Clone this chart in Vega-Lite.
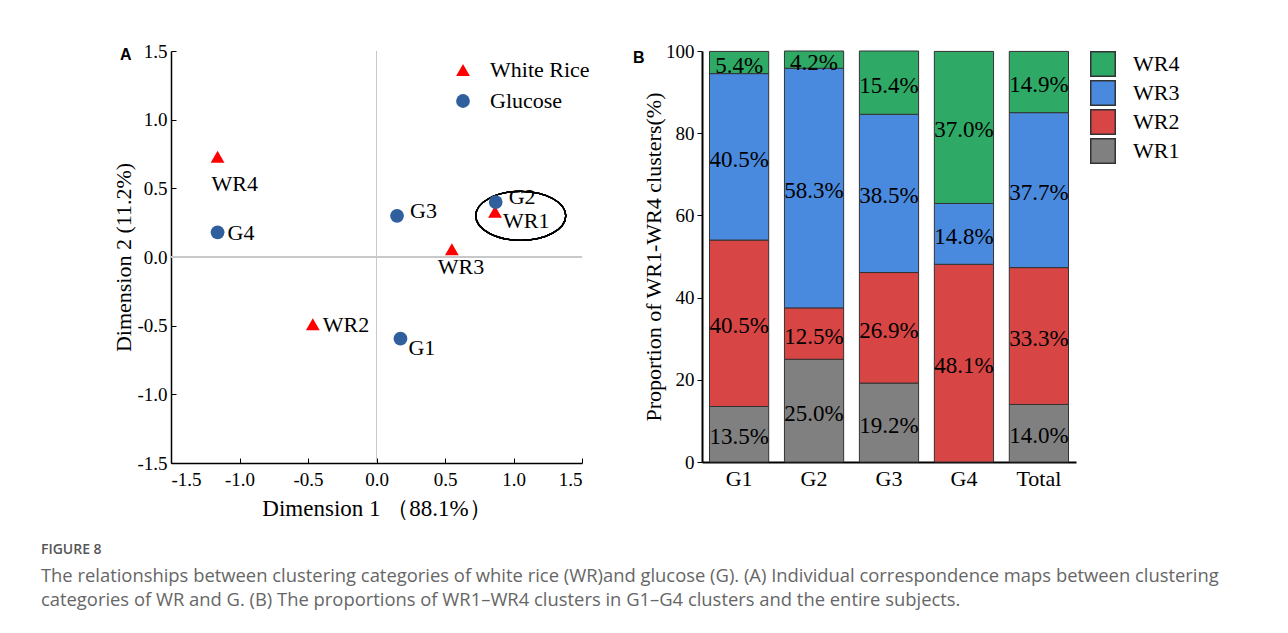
{
  "$schema": "https://vega.github.io/schema/vega-lite/v6.json",
  "background": "white",
  "padding": {"left": 40, "top": 42, "right": 0, "bottom": 0},
  "spacing": 43,
  "resolve": {"scale": {"color": "independent", "shape": "independent"}, "legend": {"color": "independent", "shape": "independent"}},
  "title": {
    "text": "FIGURE 8",
    "subtitle": ["The relationships between clustering categories of white rice (WR)and glucose (G). (A) Individual correspondence maps between clustering", "categories of WR and G. (B) The proportions of WR1–WR4 clusters in G1–G4 clusters and the entire subjects."],
    "orient": "bottom",
    "anchor": "start",
    "frame": "bounds",
    "dx": -72,
    "offset": 23,
    "font": "Open Sans",
    "fontSize": 14,
    "fontWeight": 600,
    "color": "#555555",
    "subtitleFont": "Open Sans",
    "subtitleFontSize": 18.4,
    "subtitleColor": "#666666",
    "subtitlePadding": 10,
    "subtitleLineHeight": 24
  },
  "hconcat": [
    {
      "width": 411,
      "height": 412,
      "title": {"text": "A", "anchor": "start", "frame": "group", "dx": -51, "offset": -21, "font": "Liberation Sans", "fontWeight": "bold", "fontSize": 16, "color": "black"},
      "data": {"values": [
        {"name": "WR1", "type": "White Rice", "x": 0.865, "y": 0.33},
        {"name": "WR2", "type": "White Rice", "x": -0.465, "y": -0.49},
        {"name": "WR3", "type": "White Rice", "x": 0.55, "y": 0.056},
        {"name": "WR4", "type": "White Rice", "x": -1.16, "y": 0.73},
        {"name": "G1", "type": "Glucose", "x": 0.175, "y": -0.595},
        {"name": "G2", "type": "Glucose", "x": 0.87, "y": 0.4},
        {"name": "G3", "type": "Glucose", "x": 0.15, "y": 0.3},
        {"name": "G4", "type": "Glucose", "x": -1.16, "y": 0.18}
      ]},
      "encoding": {
        "x": {"field": "x", "type": "quantitative", "scale": {"domain": [-1.5, 1.5], "nice": false, "zero": false},
          "axis": {"values": [-1.5, -1, -0.5, 0, 0.5, 1, 1.5], "labelExpr": "replace(format(datum.value, '.1f'), '\u2212', '-')", "tickSize": -5, "labelPadding": 12, "title": "Dimension 1 （88.1%）", "titleFontSize": 23, "titlePadding": 8}},
        "y": {"field": "y", "type": "quantitative", "scale": {"domain": [-1.5, 1.5], "nice": false, "zero": false},
          "axis": {"values": [-1.5, -1, -0.5, 0, 0.5, 1, 1.5], "labelExpr": "replace(format(datum.value, '.1f'), '\u2212', '-')", "tickSize": -5, "labelPadding": 9, "title": "Dimension 2 (11.2%)", "titlePadding": 1}}
      },
      "layer": [
        {"mark": {"type": "rule", "color": "#c8c8c8", "strokeWidth": 1}, "encoding": {"x": {"datum": 0}, "y": null}},
        {"mark": {"type": "rule", "color": "#c8c8c8", "strokeWidth": 1}, "encoding": {"y": {"datum": 0}, "x": null}},
        {"mark": {"type": "point", "shape": "M-1,0A1,0.545,0,1,0,1,0A1,0.545,0,1,0,-1,0Z", "size": 8100, "filled": false, "stroke": "black", "strokeWidth": 1.3, "opacity": 1},
          "encoding": {"x": {"datum": 1.053}, "y": {"datum": 0.3}}},
        {
          "mark": {"type": "point", "filled": true, "opacity": 1, "size": 190},
          "encoding": {
            "color": {"field": "type", "type": "nominal", "scale": {"domain": ["White Rice", "Glucose"], "range": ["#ff0000", "#2f5f9d"]},
              "legend": {"orient": "none", "legendX": 281, "legendY": 8, "title": null, "labelFont": "Liberation Serif", "labelFontSize": 22, "labelColor": "black", "labelOffset": 16, "rowPadding": 9, "symbolSize": 190}},
            "shape": {"field": "type", "type": "nominal", "scale": {"domain": ["White Rice", "Glucose"], "range": ["triangle-up", "circle"]}}
          }
        },
        {"transform": [{"filter": "datum.name == 'G4' || datum.name == 'WR2'"}],
          "mark": {"type": "text", "align": "left", "baseline": "middle", "dx": 10, "dy": 1, "font": "Liberation Serif", "fontSize": 22, "color": "black"},
          "encoding": {"text": {"field": "name"}}},
        {"transform": [{"filter": "datum.name == 'G3' || datum.name == 'G2'"}],
          "mark": {"type": "text", "align": "left", "baseline": "middle", "dx": 13, "dy": -5, "font": "Liberation Serif", "fontSize": 22, "color": "black"},
          "encoding": {"text": {"field": "name"}}},
        {"transform": [{"filter": "datum.name == 'WR1' || datum.name == 'G1'"}],
          "mark": {"type": "text", "align": "left", "baseline": "middle", "dx": 8, "dy": 9, "font": "Liberation Serif", "fontSize": 22, "color": "black"},
          "encoding": {"text": {"field": "name"}}},
        {"transform": [{"filter": "datum.name == 'WR4'"}],
          "mark": {"type": "text", "align": "left", "baseline": "middle", "dx": -6, "dy": 27, "font": "Liberation Serif", "fontSize": 22, "color": "black"},
          "encoding": {"text": {"field": "name"}}},
        {"transform": [{"filter": "datum.name == 'WR3'"}],
          "mark": {"type": "text", "align": "left", "baseline": "middle", "dx": -14, "dy": 18, "font": "Liberation Serif", "fontSize": 22, "color": "black"},
          "encoding": {"text": {"field": "name"}}}
      ]
    },
    {
      "width": 374,
      "height": 411,
      "title": {"text": "B", "anchor": "start", "frame": "group", "dx": -69, "offset": -24, "font": "Liberation Sans", "fontWeight": "bold", "fontSize": 16, "color": "black"},
      "data": {"values": [
        {"group": "G1", "cluster": "WR1", "pct": 13.5},
        {"group": "G1", "cluster": "WR2", "pct": 40.5},
        {"group": "G1", "cluster": "WR3", "pct": 40.5},
        {"group": "G1", "cluster": "WR4", "pct": 5.4},
        {"group": "G2", "cluster": "WR1", "pct": 25.0},
        {"group": "G2", "cluster": "WR2", "pct": 12.5},
        {"group": "G2", "cluster": "WR3", "pct": 58.3},
        {"group": "G2", "cluster": "WR4", "pct": 4.2},
        {"group": "G3", "cluster": "WR1", "pct": 19.2},
        {"group": "G3", "cluster": "WR2", "pct": 26.9},
        {"group": "G3", "cluster": "WR3", "pct": 38.5},
        {"group": "G3", "cluster": "WR4", "pct": 15.4},
        {"group": "G4", "cluster": "WR1", "pct": 0},
        {"group": "G4", "cluster": "WR2", "pct": 48.1},
        {"group": "G4", "cluster": "WR3", "pct": 14.8},
        {"group": "G4", "cluster": "WR4", "pct": 37.0},
        {"group": "Total", "cluster": "WR1", "pct": 14.0},
        {"group": "Total", "cluster": "WR2", "pct": 33.3},
        {"group": "Total", "cluster": "WR3", "pct": 37.7},
        {"group": "Total", "cluster": "WR4", "pct": 14.9}
      ]},
      "transform": [
        {"filter": "datum.pct > 0"},
        {"stack": "pct", "groupby": ["group"], "sort": [{"field": "cluster", "order": "ascending"}], "as": ["y0", "y1"]}
      ],
      "encoding": {
        "x": {"field": "group", "type": "nominal", "sort": ["G1", "G2", "G3", "G4", "Total"],
          "scale": {"paddingInner": 0.21, "paddingOuter": 0.1},
          "axis": {"title": null, "labelAngle": 0, "ticks": false, "labelFontSize": 22, "labelPadding": 6, "domainWidth": 2}}
      },
      "layer": [
        {
          "mark": {"type": "bar", "stroke": "#333333", "strokeWidth": 1},
          "encoding": {
            "y": {"field": "y0", "type": "quantitative", "scale": {"domain": [0, 100], "nice": false},
              "axis": {"values": [0, 20, 40, 60, 80, 100], "tickSize": 5, "labelPadding": 3, "domainWidth": 2, "title": "Proportion of WR1-WR4 clusters(%)", "titlePadding": 0}},
            "y2": {"field": "y1"},
            "color": {"field": "cluster", "type": "nominal",
              "scale": {"domain": ["WR4", "WR3", "WR2", "WR1"], "range": ["#2eaa66", "#4a8ade", "#d84545", "#808080"]},
              "legend": {"title": null, "orient": "right", "offset": 14, "symbolType": "square", "symbolSize": 600, "symbolStrokeColor": "#333333", "symbolStrokeWidth": 1.5, "symbolOpacity": 1, "labelFont": "Liberation Serif", "labelFontSize": 22, "labelColor": "black", "labelOffset": 17, "rowPadding": -4}}
          }
        },
        {
          "transform": [
            {"fold": ["y0", "y1"], "as": ["edge", "yv"]},
            {"aggregate": [{"op": "mean", "field": "yv", "as": "ymid"}], "groupby": ["group", "cluster", "pct"]}
          ],
          "mark": {"type": "text", "align": "center", "baseline": "middle", "dy": 3, "font": "Liberation Serif", "fontSize": 23, "color": "black", "text": {"expr": "format(datum.pct, '.1f') + '%'"}},
          "encoding": {
            "y": {"field": "ymid", "type": "quantitative"}
          }
        }
      ]
    }
  ],
  "config": {
    "view": {"stroke": null},
    "axis": {"grid": false, "labelFont": "Liberation Serif", "titleFont": "Liberation Serif", "labelFontSize": 19, "titleFontSize": 22, "labelColor": "black", "titleColor": "black", "titleFontWeight": "normal", "domainColor": "black", "tickColor": "black", "domainWidth": 1.5, "labelOverlap": false}
  }
}
